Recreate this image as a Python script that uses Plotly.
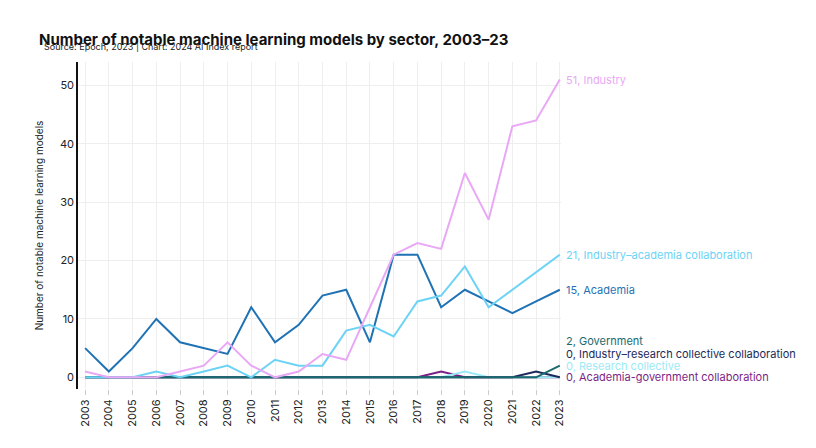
import plotly.graph_objects as go

years = list(range(2003, 2024))
industry = [1,0,0,0,1,2,6,2,0,1,4,3,12,21,23,22,35,27,43,44,51]
ind_acad = [0,0,0,1,0,1,2,0,3,2,2,8,9,7,13,14,19,12,15,18,21]
academia = [5,1,5,10,6,5,4,12,6,9,14,15,6,21,21,12,15,13,11,13,15]
government = [0]*19 + [0,2]
ind_research = [0]*19 + [1,0]
research_coll = [0]*16 + [1,0,0,0,0]
acad_gov = [0]*15 + [1,0,0,0,0,0]

series = [
    ("Industry", industry, "#e9a8f5", 51, 51),
    ("Industry–academia collaboration", ind_acad, "#6dd3f5", 21, 21),
    ("Academia", academia, "#1f72b4", 15, 15),
    ("Government", government, "#1a6a6e", 2, 6.2),
    ("Industry–research collective collaboration", ind_research, "#1b2a5a", 0, 4.0),
    ("Research collective", research_coll, "#9beaf5", 0, 2.0),
    ("Academia-government collaboration", acad_gov, "#7b1f86", 0, 0),
]

fig = go.Figure()
for name, vals, col, last, ypos in reversed(series):
    fig.add_trace(go.Scatter(x=years, y=vals, mode="lines", line=dict(color=col, width=2), name=name, showlegend=False))
for name, vals, col, last, ypos in series:
    fig.add_annotation(x=2023, y=ypos, text=f"{last}, {name}", showarrow=False, xanchor="left", xshift=4,
                       font=dict(color=col, size=11))

fig.update_layout(
    width=816, height=448, paper_bgcolor="white", plot_bgcolor="white",
    margin=dict(l=70, r=263, t=54, b=67),
    font=dict(family="Inter, Roboto, sans-serif", color="#222", size=11),
    title=dict(text="<b>Number of notable machine learning models by sector, 2003–23</b>",
               x=0.038, xanchor="left", y=0.93, yanchor="middle", font=dict(size=15, color="#111")),
)
fig.add_annotation(xref="paper", yref="paper", x=-0.075, y=1.025, xanchor="left", yanchor="bottom",
                   text="Source: Epoch, 2023 | Chart: 2024 AI Index report",
                   showarrow=False, font=dict(size=9))
fig.add_annotation(xref="paper", yref="paper", x=1.48, y=-0.17, xanchor="right", yanchor="top", text="Figure 1.3.1",
                   showarrow=False, font=dict(size=10))
fig.update_xaxes(tickmode="array", tickvals=years, ticktext=[str(y) for y in years], tickangle=-90,
                 showgrid=True, gridcolor="#eeeeee", range=[2002.7, 2023.05], ticks="outside", tickcolor="#ccc")
fig.update_yaxes(range=[-2, 54], tickvals=[0,10,20,30,40,50], showgrid=True, gridcolor="#eeeeee",
                 zeroline=False, showline=True, linecolor="#111", linewidth=1.5,
                 title=dict(text="Number of notable machine learning models", font=dict(size=10)))
fig.write_html("out.html")
